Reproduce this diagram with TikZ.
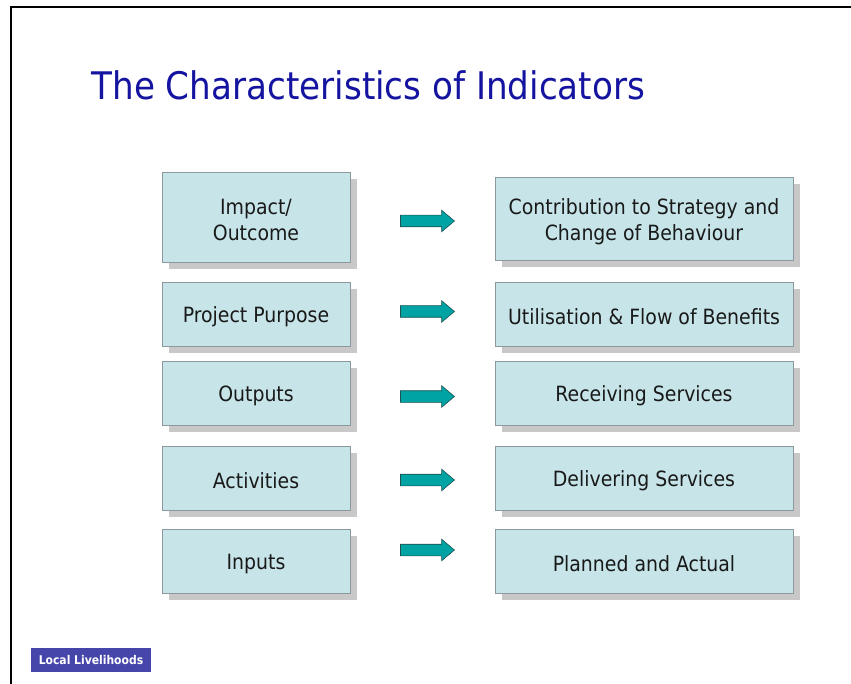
\documentclass[tikz,border=0pt]{standalone}
\usepackage{fontspec}
\setmainfont{DejaVu Sans Condensed}
\usepackage{tikz}
\usetikzlibrary{shapes.arrows,shadows}

\definecolor{boxfill}{RGB}{199,229,233}
\definecolor{boxline}{RGB}{140,152,156}
\definecolor{shade}{RGB}{200,200,200}
\definecolor{arrowfill}{RGB}{0,163,163}
\definecolor{arrowline}{RGB}{30,80,80}
\definecolor{titleblue}{RGB}{20,20,160}
\definecolor{tagblue}{RGB}{70,70,170}

\tikzset{
  box/.style={draw=boxline, fill=boxfill, line width=0.8pt,
    drop shadow={shadow xshift=7pt, shadow yshift=-7pt, fill=shade, opacity=1}},
  lbl/.style={align=center, text=black!90, yshift=-3pt, font=\fontsize{21}{26}\selectfont},
  blockarrow/.style={single arrow, draw=arrowline, fill=arrowfill, line width=0.6pt,
    inner sep=0pt, text height=5.5pt, text depth=5.5pt, minimum height=54pt,
    single arrow head extend=5pt, single arrow tip angle=80}
}

\begin{document}
\begin{tikzpicture}[x=1pt, y=-1pt]
      \useasboundingbox (0,0) rectangle (851,684);
      \draw[line width=2pt] (11,684) -- (11,7) -- (851,7);
      \node (title) [anchor=base west, text=titleblue, font=\fontsize{38}{44}\selectfont]
            at (88,100) {The Characteristics of Indicators};
      % left column
      \draw[box] (162,172) rectangle (350,262) node (impact) [pos=.5, lbl] {Impact/\\Outcome};
      \draw[box] (162,282) rectangle (350,346) node (purpose) [pos=.5, lbl] {Project Purpose};
      \draw[box] (162,361) rectangle (350,425) node (outputs) [pos=.5, lbl] {Outputs};
      \draw[box] (162,446) rectangle (350,510) node (activities) [pos=.5, lbl] {Activities};
      \draw[box] (162,529) rectangle (350,593) node (inputs) [pos=.5, lbl] {Inputs};
      % right column
      \draw[box] (495,177) rectangle (793,260) node (strategy) [pos=.5, lbl] {Contribution to Strategy and\\Change of Behaviour};
      \draw[box] (495,282) rectangle (793,346) node (benefits) [pos=.5, lbl] {Utilisation \& Flow of Benefits};
      \draw[box] (495,361) rectangle (793,425) node (receiving) [pos=.5, lbl] {Receiving Services};
      \draw[box] (495,446) rectangle (793,510) node (delivering) [pos=.5, lbl] {Delivering Services};
      \draw[box] (495,529) rectangle (793,593) node (planned) [pos=.5, lbl] {Planned and Actual};
      % arrows
      \node (arr1) [blockarrow] at (424,221) {};
      \node (arr2) [blockarrow] at (424,311.5) {};
      \node (arr3) [blockarrow] at (424,396.5) {};
      \node (arr4) [blockarrow] at (424,480) {};
      \node (arr5) [blockarrow] at (424,550) {};
      \draw[fill=tagblue, draw=none] (31,648) rectangle (151,672)
            node (tag) [pos=.5, text=white, font=\bfseries\fontsize{12}{14}\selectfont] {Local Livelihoods};
\end{tikzpicture}
\end{document}
